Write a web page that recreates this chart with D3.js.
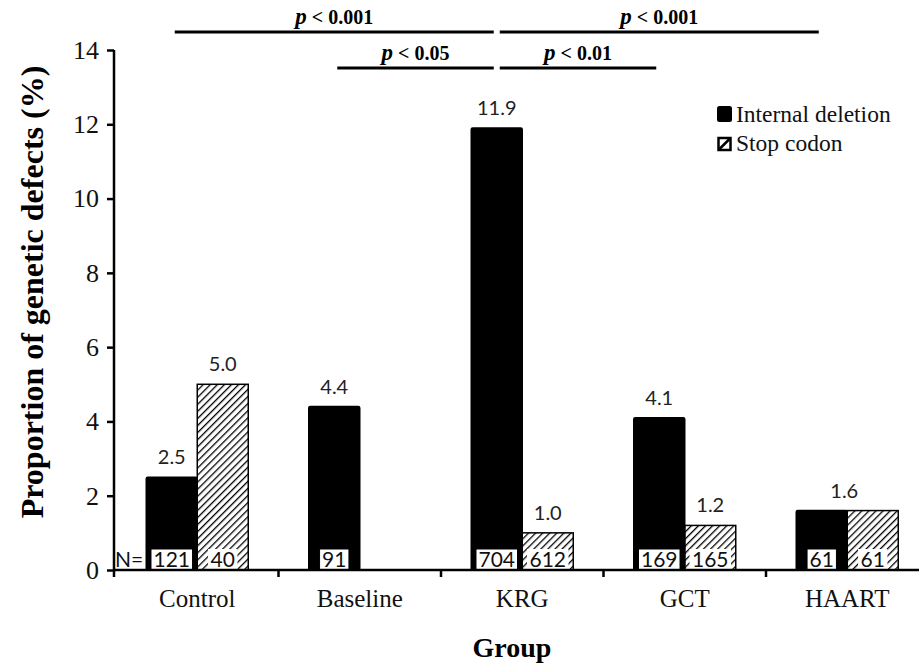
<!DOCTYPE html>
<html lang="en">
<head>
    <style>
        body { margin: 0; background: #fff; }
        svg { display: block; }
    </style>
    <script src="https://d3js.org/d3.v7.min.js"></script>
</head>
<body>
    <svg width="919" height="665"></svg>
    <script>
        // data
        var groups = ["Control", "Baseline", "KRG", "GCT", "HAART"];
        var internalDeletion = [2.5, 4.4, 11.9, 4.1, 1.6];
        var stopCodon = [5.0, null, 1.0, 1.2, 1.6];
        var nInternal = [121, 91, 704, 169, 61];
        var nStop = [40, null, 612, 165, 61];
        var yTicks = [0, 2, 4, 6, 8, 10, 12, 14];
        var seriesNames = ["Internal deletion", "Stop codon"];
        var compFrom = ["Control", "Baseline", "KRG", "KRG"];
        var compTo = ["KRG", "KRG", "HAART", "GCT"];
        var compP = ["0.001", "0.05", "0.001", "0.01"];
        var compLevel = [0, 1, 0, 1];

        var SERIF = "'Liberation Serif', 'Times New Roman', serif";
        var SANS = "Lato, 'Open Sans', sans-serif";

        var svg = d3.select("svg");
        var plotLeft = 116, plotBottom = 570, plotTop = 50;

        var x = d3.scaleBand().domain(groups).range([plotLeft, plotLeft + 5 * 162.5]);
        var y = d3.scaleLinear().domain([0, 14]).range([plotBottom, plotTop]);
        var barW = 51;

        var defs = svg.append("defs");
        defs.append("pattern")
            .attr("id", "hatch")
            .attr("patternUnits", "userSpaceOnUse")
            .attr("width", 5).attr("height", 5)
            .attr("patternTransform", "rotate(45)")
            .append("line")
            .attr("x1", 0).attr("y1", 0).attr("x2", 0).attr("y2", 5)
            .attr("stroke", "#000").attr("stroke-width", 2.6);

        function cx(g) { return x(g) + x.bandwidth() / 2; }

        var rows = groups.map(function(g, i) {
            return { g: g, id: internalDeletion[i], stop: stopCodon[i], nid: nInternal[i], nstop: nStop[i] };
        });

        // bars
        svg.selectAll(".bar-id")
            .data(rows)
            .enter().append("rect")
            .attr("class", "bar-id")
            .attr("x", function(d) { return cx(d.g) - barW; })
            .attr("y", function(d) { return y(d.id); })
            .attr("width", barW)
            .attr("height", function(d) { return y(0) - y(d.id); })
            .attr("fill", "#000")
            .attr("stroke", "#000").attr("stroke-width", 1.5)
            .attr("rx", 1.5);

        svg.selectAll(".bar-stop")
            .data(rows.filter(function(d) { return d.stop != null; }))
            .enter().append("rect")
            .attr("class", "bar-stop")
            .attr("x", function(d) { return cx(d.g); })
            .attr("y", function(d) { return y(d.stop); })
            .attr("width", barW)
            .attr("height", function(d) { return y(0) - y(d.stop); })
            .attr("fill", "url(#hatch)")
            .attr("stroke", "#000").attr("stroke-width", 1.5);

        // value labels
        rows.forEach(function(d) {
            var same = d.stop != null && d.stop === d.id;
            svg.append("text").attr("font-family", SANS)
                .attr("x", same ? cx(d.g) - 3 : cx(d.g) - barW / 2)
                .attr("y", y(d.id) - 13)
                .attr("text-anchor", "middle")
                .attr("font-size", 20).attr("fill", "#222")
                .text(d.id.toFixed(1));
            if (d.stop != null && !same) {
                svg.append("text").attr("font-family", SANS)
                    .attr("x", cx(d.g) + barW / 2)
                    .attr("y", y(d.stop) - 13)
                    .attr("text-anchor", "middle")
                    .attr("font-size", 20).attr("fill", "#222")
                    .text(d.stop.toFixed(1));
            }
        });

        // N boxes
        function nBox(xc, val, border) {
            var t = svg.append("text").attr("font-family", SANS)
                .attr("x", xc).attr("y", plotBottom - 3.5)
                .attr("text-anchor", "middle")
                .attr("font-size", 21).attr("fill", "#111")
                .text(val);
            var w = t.node().getComputedTextLength() + 5;
            svg.insert("rect", function() { return t.node(); })
                .attr("x", xc - w / 2).attr("y", plotBottom - 21)
                .attr("width", w).attr("height", 21)
                .attr("fill", "#fff")
                .attr("stroke", border ? "#000" : "none").attr("stroke-width", 1);
        }
        rows.forEach(function(d) {
            nBox(cx(d.g) - barW / 2, d.nid, true);
            if (d.nstop != null) nBox(cx(d.g) + barW / 2, d.nstop, false);
        });
        svg.append("text").attr("font-family", SANS)
            .attr("x", plotLeft - 1).attr("y", plotBottom - 3.5)
            .attr("font-size", 21).attr("fill", "#111")
            .text("N=");

        // y axis
        var yAxis = svg.append("g")
            .attr("transform", "translate(" + (plotLeft - 2) + ",0)")
            .call(d3.axisLeft(y).tickValues(yTicks).tickSize(7).tickSizeOuter(0).tickPadding(8));
        yAxis.select(".domain").attr("stroke-width", 2.5).attr("d", "M0," + plotTop + "V" + (plotBottom + 7));
        yAxis.selectAll(".tick line").attr("stroke-width", 2.5);
        yAxis.selectAll(".tick text")
            .attr("font-family", SERIF).attr("font-size", 26).attr("fill", "#111");

        // x axis
        var xAxis = svg.append("g").attr("transform", "translate(0," + plotBottom + ")");
        xAxis.append("line")
            .attr("x1", plotLeft - 3).attr("x2", 919)
            .attr("stroke", "#000").attr("stroke-width", 2.5);
        xAxis.selectAll(".xt")
            .data(groups.slice(1))
            .enter().append("line")
            .attr("x1", function(g) { return x(g); })
            .attr("x2", function(g) { return x(g); })
            .attr("y1", 0).attr("y2", 7)
            .attr("stroke", "#000").attr("stroke-width", 2.5);
        xAxis.selectAll(".xl")
            .data(groups)
            .enter().append("text")
            .attr("font-family", SERIF)
            .attr("x", function(g) { return cx(g); })
            .attr("y", 37)
            .attr("text-anchor", "middle")
            .attr("font-size", 25).attr("fill", "#111")
            .text(function(g) { return g; });

        // axis titles
        svg.append("text").attr("font-family", SERIF)
            .attr("x", 512).attr("y", 657)
            .attr("text-anchor", "middle")
            .attr("font-size", 28).attr("font-weight", "bold")
            .text("Group");
        svg.append("text").attr("font-family", SERIF)
            .attr("transform", "translate(43,292) rotate(-90)")
            .attr("text-anchor", "middle")
            .attr("font-size", 32).attr("font-weight", "bold")
            .text("Proportion of genetic defects (%)");

        // significance brackets
        var levelY = [32, 68];
        compFrom.forEach(function(f, i) {
            var x1 = cx(f) - barW / 2, x2 = cx(compTo[i]) - barW / 2;
            var a = Math.min(x1, x2) + 3, b = Math.max(x1, x2) - 3;
            svg.append("line")
                .attr("x1", a).attr("x2", b)
                .attr("y1", levelY[compLevel[i]]).attr("y2", levelY[compLevel[i]])
                .attr("stroke", "#000").attr("stroke-width", 3);
            var t = svg.append("text").attr("font-family", SERIF)
                .attr("x", (a + b) / 2).attr("y", levelY[compLevel[i]] - 8)
                .attr("text-anchor", "middle")
                .attr("font-size", 20).attr("font-weight", "bold");
            t.append("tspan").attr("font-style", "italic").attr("font-size", 23).text("p");
            t.append("tspan").text(" < " + compP[i]);
        });

        // legend
        var lg = svg.append("g").attr("transform", "translate(717,106)");
        seriesNames.forEach(function(s, i) {
            var row = lg.append("g").attr("transform", "translate(0," + (i * 29) + ")");
            if (i === 0) {
                row.append("rect").attr("width", 15).attr("height", 16).attr("rx", 2.5).attr("fill", "#000");
            } else {
                row.append("rect").attr("x", 1.5).attr("y", 3).attr("width", 12).attr("height", 12)
                    .attr("fill", "#fff").attr("stroke", "#000").attr("stroke-width", 2.5);
                row.append("line").attr("x1", 2.5).attr("y1", 14).attr("x2", 12.5).attr("y2", 4)
                    .attr("stroke", "#000").attr("stroke-width", 2.5);
            }
            row.append("text").attr("font-family", SERIF)
                .attr("x", 19).attr("y", 16)
                .attr("font-size", 23.5).attr("fill", "#111")
                .text(s);
        });
    </script>
</body>
</html>
